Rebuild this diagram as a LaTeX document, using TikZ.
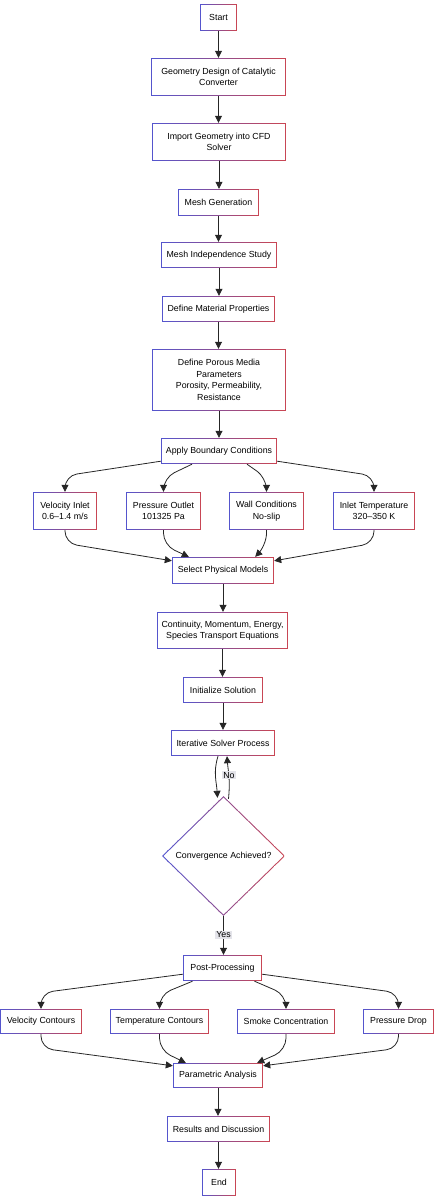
\documentclass[tikz,border=0pt]{standalone}
\usepackage{fontspec}
\setmainfont{Liberation Sans}
\usetikzlibrary{shapes.geometric,arrows.meta,calc}
\definecolor{bl}{RGB}{85,85,205}
\definecolor{rd}{RGB}{200,70,85}
\definecolor{lblbg}{RGB}{228,228,234}
\newcommand{\lblfont}{\fontsize{8.8}{11.5}\selectfont}
\newcommand{\gradstrips}{%
  \foreach \i in {0,...,23} {%
    \pgfmathsetmacro\pc{100*\i/23}%
    \fill[rd!\pc!bl] ($(path picture bounding box.south west)!{\i/24}!(path picture bounding box.south east)$) rectangle ([xshift=0.4pt]$(path picture bounding box.north west)!{(\i+1)/24}!(path picture bounding box.north east)$);
  }}
\tikzset{
  box/.style={rectangle, inner sep=0pt, align=center, font=\lblfont, fill=white,
    path picture={
      \gradstrips
      \fill[white] ([shift={(1pt,1pt)}]path picture bounding box.south west) rectangle ([shift={(-1pt,-1pt)}]path picture bounding box.north east);
    }},
  dia/.style={diamond, inner sep=0pt, align=center, font=\lblfont, fill=white,
    path picture={
      \gradstrips
      \fill[white] ([yshift=-1.5pt]path picture bounding box.north) -- ([xshift=-1.5pt]path picture bounding box.east) -- ([yshift=1.5pt]path picture bounding box.south) -- ([xshift=1.5pt]path picture bounding box.west) -- cycle;
    }},
  arr/.style={draw=black!85, line width=0.8pt, -{Triangle[length=7pt,width=7pt]}},
  curvy/.style={arr, rounded corners=12pt},
  lbl/.style={fill=lblbg, inner sep=1pt, font=\lblfont}
}
\begin{document}
\begin{tikzpicture}[x=1pt,y=1pt]
\useasboundingbox (0,0) rectangle (436,-1200);
% nodes
\node[box, minimum width=37pt, minimum height=27pt] (start) at (218.5,-17.5) {Start};
\node[box, minimum width=135pt, minimum height=38pt] (geom) at (218.5,-77) {Geometry Design of Catalytic\\Converter};
\node[box, minimum width=134pt, minimum height=38pt] (imp) at (219,-142) {Import Geometry into CFD\\Solver};
\node[box, minimum width=81pt, minimum height=27pt] (meshgen) at (218.5,-202.5) {Mesh Generation};
\node[box, minimum width=116pt, minimum height=26pt] (meshind) at (219,-255) {Mesh Independence Study};
\node[box, minimum width=113pt, minimum height=26pt] (mat) at (218.5,-309) {Define Material Properties};
\node[box, minimum width=134pt, minimum height=62pt] (porous) at (219,-380) {Define Porous Media\\Parameters\\Porosity, Permeability,\\Resistance};
\node[box, minimum width=116pt, minimum height=26pt] (apply) at (219,-451) {Apply Boundary Conditions};
\node[box, minimum width=64pt, minimum height=38pt] (vel) at (65,-511) {Velocity Inlet\\0.6--1.4 m/s};
\node[box, minimum width=75pt, minimum height=38pt] (pout) at (163.5,-511) {Pressure Outlet\\101325 Pa};
\node[box, minimum width=75pt, minimum height=38pt] (wall) at (266.5,-511) {Wall Conditions\\No-slip};
\node[box, minimum width=82pt, minimum height=38pt] (itemp) at (374,-511) {Inlet Temperature\\320--350 K};
\node[box, minimum width=102pt, minimum height=27pt] (select) at (223,-570.5) {Select Physical Models};
\node[box, minimum width=131pt, minimum height=37pt] (cont) at (222.5,-630.5) {Continuity, Momentum, Energy,\\Species Transport Equations};
\node[box, minimum width=80pt, minimum height=26pt] (init) at (223,-690) {Initialize Solution};
\node[box, minimum width=104pt, minimum height=26pt] (iter) at (223,-743) {Iterative Solver Process};
\node[dia, minimum width=123pt, minimum height=120pt] (conv) at (223.5,-856) {Convergence Achieved?};
\node[box, minimum width=79pt, minimum height=26pt] (post) at (222.5,-968) {Post-Processing};
\node[box, minimum width=82pt, minimum height=25pt] (velc) at (41,-1021.5) {Velocity Contours};
\node[box, minimum width=99pt, minimum height=25pt] (tempc) at (159.5,-1021.5) {Temperature Contours};
\node[box, minimum width=98pt, minimum height=25pt] (smoke) at (286,-1021.5) {Smoke Concentration};
\node[box, minimum width=71pt, minimum height=25pt] (pdrop) at (398.5,-1021.5) {Pressure Drop};
\node[box, minimum width=90pt, minimum height=25pt] (param) at (218,-1075.5) {Parametric Analysis};
\node[box, minimum width=103pt, minimum height=26pt] (results) at (218.5,-1129) {Results and Discussion};
\node[box, minimum width=34pt, minimum height=27pt] (end) at (219,-1182.5) {End};
% straight edges
\draw[arr] (start.south) -- (start.south |- geom.north);
\draw[arr] (geom.south) -- (geom.south |- imp.north);
\draw[arr] (imp.south) -- (imp.south |- meshgen.north);
\draw[arr] (meshgen.south) -- (meshgen.south |- meshind.north);
\draw[arr] (meshind.south) -- (meshind.south |- mat.north);
\draw[arr] (mat.south) -- (mat.south |- porous.north);
\draw[arr] (porous.south) -- (porous.south |- apply.north);
\draw[arr] (select.south) -- (select.south |- cont.north);
\draw[arr] (cont.south) -- (cont.south |- init.north);
\draw[arr] (init.south) -- (init.south |- iter.north);
\draw[arr] (conv.south) -- node[lbl, pos=0.48] {Yes} (conv.south |- post.north);
\draw[arr] (param.south) -- (param.south |- results.north);
\draw[arr] (results.south) -- (results.south |- end.north);
% apply -> boundary conditions
\draw[curvy] ([yshift=3pt]apply.south west) -- ([yshift=16pt]vel.north) -- (vel.north);
\draw[curvy] ([xshift=-27pt]apply.south) -- ([yshift=14pt]pout.north) -- (pout.north);
\draw[curvy] ([xshift=28pt]apply.south) -- ([yshift=14pt]wall.north) -- (wall.north);
\draw[curvy] ([yshift=3pt]apply.south east) -- ([yshift=16pt]itemp.north) -- (itemp.north);
% boundary conditions -> select
\draw[curvy] (vel.south) -- ([yshift=-13pt]vel.south) -- ([yshift=-4pt]select.north west);
\draw[curvy] (pout.south) -- ([yshift=-15pt]pout.south) -- ([xshift=17pt]select.north west);
\draw[curvy] (wall.south) -- ([yshift=-15pt]wall.south) -- ([xshift=-19pt]select.north east);
\draw[curvy] (itemp.south) -- ([yshift=-13pt]itemp.south) -- ([yshift=-4pt]select.north east);
% solver loop
\draw[arr] ([xshift=-5pt]iter.south) .. controls +(-5pt,-16pt) and +(-1pt,16pt) .. ([xshift=-6pt,yshift=-2pt]conv.north);
\draw[arr] ([xshift=5pt,yshift=-3pt]conv.north) .. controls +(2pt,20pt) and +(1pt,-14pt) .. node[lbl, pos=0.5] {No} ([xshift=4pt]iter.south);
% post -> results
\draw[curvy] ([yshift=7pt]post.south west) -- ([yshift=16pt]velc.north) -- (velc.north);
\draw[curvy] ([xshift=-30pt]post.south) -- ([yshift=14pt]tempc.north) -- (tempc.north);
\draw[curvy] ([xshift=32pt]post.south) -- ([yshift=14pt]smoke.north) -- (smoke.north);
\draw[curvy] ([yshift=7pt]post.south east) -- ([yshift=16pt]pdrop.north) -- (pdrop.north);
% results -> parametric
\draw[curvy] (velc.south) -- ([yshift=-14pt]velc.south) -- ([yshift=-3pt]param.north west);
\draw[curvy] (tempc.south) -- ([yshift=-16pt]tempc.south) -- ([xshift=13pt]param.north west);
\draw[curvy] (smoke.south) -- ([yshift=-16pt]smoke.south) -- ([xshift=-6pt]param.north east);
\draw[curvy] (pdrop.south) -- ([yshift=-14pt]pdrop.south) -- ([yshift=-3pt]param.north east);
\end{tikzpicture}
\end{document}
